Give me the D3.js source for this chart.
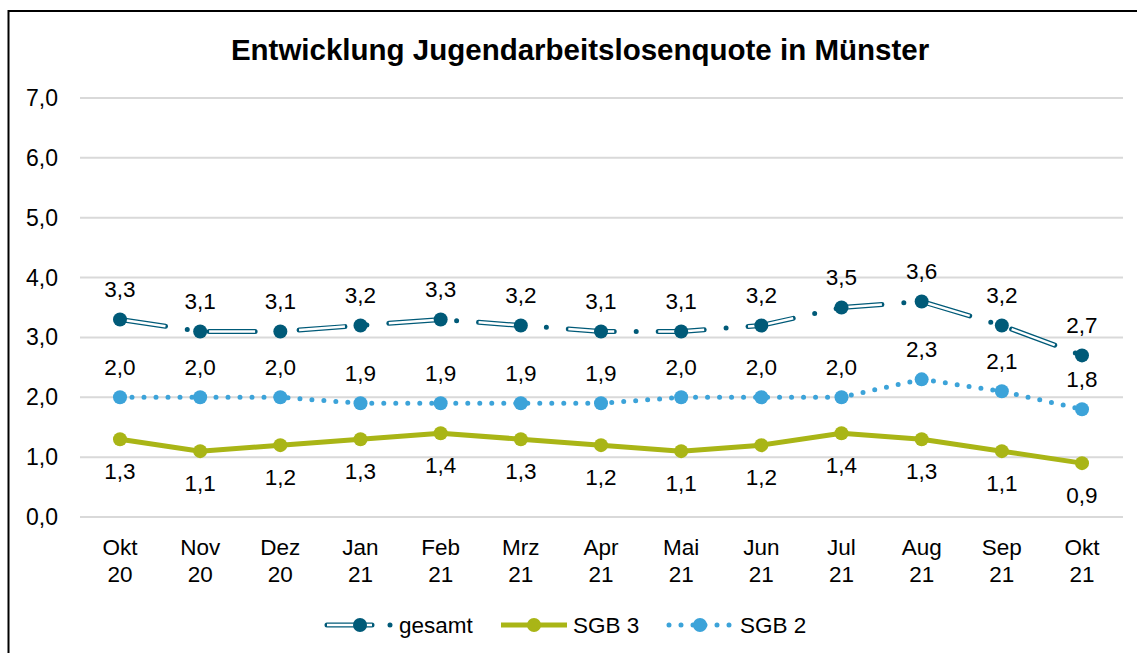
<!DOCTYPE html>
<html>
<head>
<meta charset="utf-8">
<script src="https://cdn.jsdelivr.net/npm/d3@7"></script>
<style>
  body { margin: 0; background: #fff; }
  text { font-family: Arial, "Liberation Sans", sans-serif; fill: #000; }
</style>
</head>
<body>
<div id="chart"></div>
<script>
// chart data
const monate = ["Okt", "Nov", "Dez", "Jan", "Feb", "Mrz", "Apr", "Mai", "Jun", "Jul", "Aug", "Sep", "Okt"]
const jahre = ["20", "20", "20", "21", "21", "21", "21", "21", "21", "21", "21", "21", "21"]
const gesamt = [3.3, 3.1, 3.1, 3.2, 3.3, 3.2, 3.1, 3.1, 3.2, 3.5, 3.6, 3.2, 2.7]
const sgb3 = [1.3, 1.1, 1.2, 1.3, 1.4, 1.3, 1.2, 1.1, 1.2, 1.4, 1.3, 1.1, 0.9]
const sgb2 = [2.0, 2.0, 2.0, 1.9, 1.9, 1.9, 1.9, 2.0, 2.0, 2.0, 2.3, 2.1, 1.8]
const yTicks = [0, 1, 2, 3, 4, 5, 6, 7]

const title = "Entwicklung Jugendarbeitslosenquote in Münster"

function drawChart() {
  const width = 1137
  const height = 653
  const fs = "22.5px"
  const fmt = v => v.toFixed(1).replace(".", ",")

  const colGesamt = "#005a78"
  const colSgb3 = "#a9b516"
  const colSgb2 = "#3ca3d9"

  const svg = d3.select("#chart").append("svg")
      .attr("width", width)
      .attr("height", height)

  // outer frame (runs off right and bottom edge)
  svg.append("rect")
      .attr("x", 8.5).attr("y", 11)
      .attr("width", 1140).attr("height", 660)
      .attr("fill", "none")
      .attr("stroke", "#000")
      .attr("stroke-width", 2)

  svg.append("text")
      .attr("x", 580).attr("y", 50)
      .attr("dy", "0.35em")
      .attr("text-anchor", "middle")
      .style("font-size", "29.5px")
      .style("font-weight", "bold")
      .text(title)

  // scales
  const x = d3.scalePoint()
      .domain(d3.range(monate.length))
      .range([120, 1082])
  const y = d3.scaleLinear()
      .domain([0, 7])
      .range([517, 98])

  // gridlines
  svg.append("g").selectAll("line")
    .data(yTicks)
    .join("line")
      .attr("x1", 80).attr("x2", 1123)
      .attr("y1", d => y(d)).attr("y2", d => y(d))
      .attr("stroke", "#d9d9d9")
      .attr("stroke-width", 2)

  svg.append("g").selectAll("text")
    .data(yTicks)
    .join("text")
      .attr("x", 58).attr("y", d => y(d))
      .attr("dy", "0.35em")
      .attr("text-anchor", "end")
      .style("font-size", "23px")
      .text(d => fmt(d))

  // category labels
  const xLab = svg.append("g").selectAll("text")
    .data(monate)
    .join("text")
      .attr("text-anchor", "middle")
      .style("font-size", fs)
  xLab.append("tspan").attr("x", (d, i) => x(i)).attr("y", 547).attr("dy", "0.35em").text(d => d)
  xLab.append("tspan").attr("x", (d, i) => x(i)).attr("y", 574).attr("dy", "0.35em").text((d, i) => jahre[i])

  const line = d3.line()
      .x((d, i) => x(i))
      .y(d => y(d))

  // gesamt: hollow dash-dot line
  svg.append("path")
      .attr("d", line(gesamt))
      .attr("fill", "none")
      .attr("stroke", colGesamt)
      .attr("stroke-width", 5)
      .attr("stroke-linecap", "round")
      .attr("stroke-dasharray", "46 22 0 22")
  svg.append("path")
      .attr("d", line(gesamt))
      .attr("fill", "none")
      .attr("stroke", "#fff")
      .attr("stroke-width", 2.5)
      .attr("stroke-dasharray", "46 44")

  // SGB 3: solid
  svg.append("path")
      .attr("d", line(sgb3))
      .attr("fill", "none")
      .attr("stroke", colSgb3)
      .attr("stroke-width", 5)
      .attr("stroke-linejoin", "round")

  // SGB 2: round dots
  svg.append("path")
      .attr("d", line(sgb2))
      .attr("fill", "none")
      .attr("stroke", colSgb2)
      .attr("stroke-width", 5)
      .attr("stroke-linecap", "round")
      .attr("stroke-dasharray", "0 12")

  // markers and labels
  const series = [
    { vals: gesamt, col: colGesamt, dy: -30 },
    { vals: sgb3, col: colSgb3, dy: 32 },
    { vals: sgb2, col: colSgb2, dy: -30 }
  ]
  series.forEach(s => {
    svg.append("g").selectAll("circle")
      .data(s.vals)
      .join("circle")
        .attr("cx", (d, i) => x(i))
        .attr("cy", d => y(d))
        .attr("r", 7)
        .attr("fill", s.col)
    svg.append("g").selectAll("text")
      .data(s.vals)
      .join("text")
        .attr("x", (d, i) => x(i))
        .attr("y", d => y(d) + s.dy)
        .attr("dy", "0.35em")
        .attr("text-anchor", "middle")
        .style("font-size", fs)
        .text(d => fmt(d))
  })

  // legend
  const ly = 625
  const lg = svg.append("g")
  lg.append("line")
      .attr("x1", 327).attr("x2", 392).attr("y1", ly).attr("y2", ly)
      .attr("stroke", colGesamt).attr("stroke-width", 5)
      .attr("stroke-linecap", "round")
      .attr("stroke-dasharray", "45 18 0 100")
  lg.append("line")
      .attr("x1", 327).attr("x2", 372).attr("y1", ly).attr("y2", ly)
      .attr("stroke", "#fff").attr("stroke-width", 2.5)
  lg.append("circle").attr("cx", 360).attr("cy", ly).attr("r", 7).attr("fill", colGesamt)
  lg.append("text").attr("x", 399).attr("y", ly).attr("dy", "0.35em")
      .style("font-size", fs).text("gesamt")

  lg.append("line")
      .attr("x1", 501).attr("x2", 567).attr("y1", ly).attr("y2", ly)
      .attr("stroke", colSgb3).attr("stroke-width", 5)
  lg.append("circle").attr("cx", 534).attr("cy", ly).attr("r", 7).attr("fill", colSgb3)
  lg.append("text").attr("x", 573).attr("y", ly).attr("dy", "0.35em")
      .style("font-size", fs).text("SGB 3")

  lg.append("line")
      .attr("x1", 669).attr("x2", 730).attr("y1", ly).attr("y2", ly)
      .attr("stroke", colSgb2).attr("stroke-width", 5)
      .attr("stroke-linecap", "round")
      .attr("stroke-dasharray", "0 12")
  lg.append("circle").attr("cx", 700).attr("cy", ly).attr("r", 7).attr("fill", colSgb2)
  lg.append("text").attr("x", 740).attr("y", ly).attr("dy", "0.35em")
      .style("font-size", fs).text("SGB 2")
}

window.onload = function () {
  drawChart()
}
</script>
</body>
</html>
